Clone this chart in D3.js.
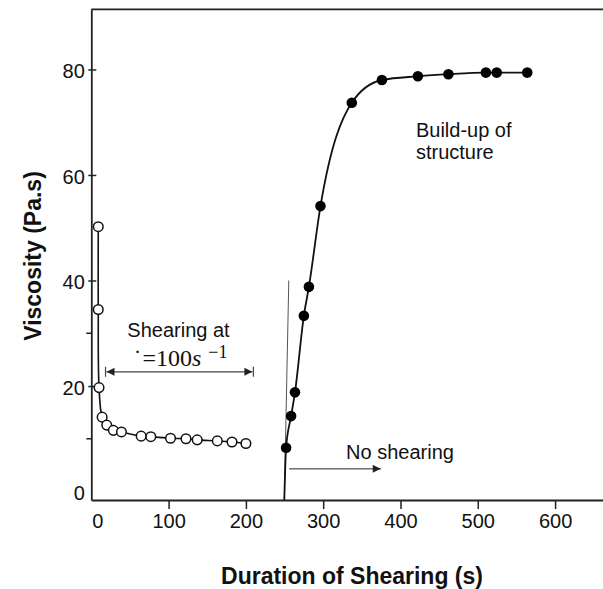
<!DOCTYPE html>
<html>
<head>
<meta charset="utf-8">
<script src="https://cdn.jsdelivr.net/npm/d3@7"></script>
<style>
  html, body { margin: 0; padding: 0; background: #fff; }
  svg { display: block; font-family: "Liberation Sans", Arial, sans-serif; }
</style>
</head>
<body>
<svg id="chart" width="603" height="589"></svg>
<script>
// Viscosity while shearing at a constant rate (open circles)
const shearTime = [9, 9, 10, 14, 20, 28.5, 39, 64.5, 77, 102.5, 122.5, 137, 163, 182, 200];
const shearVisc = [50.2, 34.5, 19.7, 14.1, 12.6, 11.6, 11.3, 10.5, 10.4, 10.1, 10.0, 9.8, 9.6, 9.4, 9.1];

// Viscosity recovery after shearing stops (filled circles)
const restTime = [252, 258.5, 263.5, 275, 281.5, 296.5, 337, 376, 422.5, 462, 510.5, 524.5, 564];
const restVisc = [8.3, 14.3, 18.8, 33.3, 38.8, 54.1, 73.7, 78.0, 78.7, 79.1, 79.4, 79.4, 79.4];

// Start of the recovery, where shearing stops
const restStart = [249.7, -1.6];
// Initial slope of the recovery
const slopeEnd = [255.5, 40];

const xTicks = [0, 100, 200, 300, 400, 500, 600];
const yTicks = [0, 20, 40, 60, 80];
const yMinorTicks = [10, 30];

const svg = d3.select("#chart");
const plotLeft = 91.3, plotRight = 603, plotTop = 9.3, plotBottom = 500;

const x = d3.scaleLinear().domain([0, 662]).range([plotLeft, plotRight]);
const y = d3.scaleLinear().domain([-1.6, 91.4]).range([plotBottom, plotTop]);

const axisColor = "#222";

// x axis
const gx = svg.append("g")
  .attr("transform", `translate(0,${plotBottom})`)
  .call(d3.axisBottom(x).tickValues(xTicks).tickSizeInner(9).tickSizeOuter(0).tickPadding(5));
gx.select(".domain").attr("stroke", axisColor).attr("stroke-width", 1.8);
gx.selectAll(".tick line").attr("stroke", axisColor).attr("stroke-width", 1.5)
  .attr("display", d => d === 0 ? "none" : null);
gx.selectAll(".tick text").attr("font-size", 20).attr("fill", "#111")
  .attr("font-family", "Liberation Sans, Arial, sans-serif")
  .attr("dx", d => d === 0 ? 6 : 0);

// y axis
const gy = svg.append("g")
  .attr("transform", `translate(${plotLeft},0)`)
  .call(d3.axisLeft(y).tickValues(yTicks).tickSizeInner(3).tickSizeOuter(0).tickPadding(3.5));
gy.select(".domain").attr("stroke", axisColor).attr("stroke-width", 1.8);
gy.selectAll(".tick line").attr("stroke", axisColor).attr("stroke-width", 1.5)
  .attr("x2", -3).attr("x1", 5)
  .attr("display", d => d === 0 ? "none" : null);
gy.selectAll(".tick text").attr("font-size", 20).attr("fill", "#111")
  .attr("font-family", "Liberation Sans, Arial, sans-serif")
  .attr("dy", "0.42em");
gy.selectAll(".minor").data(yMinorTicks).enter().append("line")
  .attr("class", "minor")
  .attr("x1", -5).attr("x2", 0)
  .attr("y1", d => y(d)).attr("y2", d => y(d))
  .attr("stroke", axisColor).attr("stroke-width", 1.5);

// top frame line
svg.append("line")
  .attr("x1", plotLeft).attr("x2", plotRight).attr("y1", plotTop).attr("y2", plotTop)
  .attr("stroke", axisColor).attr("stroke-width", 1.8);

// axis titles
svg.append("text")
  .attr("x", 352).attr("y", 584)
  .attr("text-anchor", "middle")
  .attr("font-size", 23).attr("font-weight", "bold").attr("fill", "#111")
  .text("Duration of Shearing (s)");
svg.append("text")
  .attr("transform", "translate(41,256) rotate(-90)")
  .attr("text-anchor", "middle")
  .attr("font-size", 23).attr("font-weight", "bold").attr("fill", "#111")
  .text("Viscosity (Pa.s)");

// initial slope line
svg.append("line")
  .attr("x1", x(restStart[0])).attr("y1", y(restStart[1]))
  .attr("x2", x(slopeEnd[0])).attr("y2", y(slopeEnd[1]))
  .attr("stroke", "#555").attr("stroke-width", 1);

// curves
const shearPts = shearTime.map((t, i) => [t, shearVisc[i]]);
const restPts = restTime.map((t, i) => [t, restVisc[i]]);

const lineCR = d3.line().x(d => x(d[0])).y(d => y(d[1])).curve(d3.curveCatmullRom.alpha(0.5));
const lineMono = d3.line().x(d => x(d[0])).y(d => y(d[1])).curve(d3.curveMonotoneX);

svg.append("path").attr("d", lineCR(shearPts))
  .attr("fill", "none").attr("stroke", "#111").attr("stroke-width", 1.6);
svg.append("path").attr("d", lineMono([restStart, ...restPts]))
  .attr("fill", "none").attr("stroke", "#111").attr("stroke-width", 1.8);

// markers
svg.selectAll(".open").data(shearPts).enter().append("circle")
  .attr("class", "open")
  .attr("cx", d => x(d[0])).attr("cy", d => y(d[1])).attr("r", 4.8)
  .attr("fill", "#fff").attr("stroke", "#111").attr("stroke-width", 1.5);
svg.selectAll(".filled").data(restPts).enter().append("circle")
  .attr("class", "filled")
  .attr("cx", d => x(d[0])).attr("cy", d => y(d[1])).attr("r", 5.3)
  .attr("fill", "#000");

// arrowheads
const defs = svg.append("defs");
function marker(id, color, orient) {
  defs.append("marker")
    .attr("id", id).attr("viewBox", "0 0 10 10")
    .attr("refX", 10).attr("refY", 5)
    .attr("markerWidth", 10).attr("markerHeight", 8)
    .attr("markerUnits", "userSpaceOnUse")
    .attr("orient", orient)
    .append("path").attr("d", "M0,0 L10,5 L0,10 Z").attr("fill", color);
}
marker("headEnd", "#222", "auto");
marker("headStart", "#222", "auto-start-reverse");

// shearing interval
const spanY = y(22.7);
const spanX0 = x(18.4), spanX1 = x(209.7);
svg.append("line")
  .attr("x1", spanX0 + 1).attr("x2", spanX1 - 1).attr("y1", spanY).attr("y2", spanY)
  .attr("stroke", "#444").attr("stroke-width", 1.2)
  .attr("marker-start", "url(#headStart)").attr("marker-end", "url(#headEnd)");
[spanX0, spanX1].forEach(px => {
  svg.append("line").attr("x1", px).attr("x2", px)
    .attr("y1", spanY - 5).attr("y2", spanY + 5)
    .attr("stroke", "#444").attr("stroke-width", 1.2);
});

svg.append("text")
  .attr("x", x(46.6)).attr("y", y(29.3))
  .attr("font-size", 20).attr("fill", "#111")
  .text("Shearing at");

const rate = svg.append("text")
  .attr("x", x(54.5)).attr("y", y(23.8))
  .attr("font-family", "Liberation Serif, 'Times New Roman', serif")
  .attr("font-size", 24).attr("fill", "#111");
rate.append("tspan").text("˙");
rate.append("tspan").attr("dx", 1).text("=100");
rate.append("tspan").attr("font-style", "italic").text("s");
rate.append("tspan").attr("dx", 7).attr("dy", -8).attr("font-size", 18).text("−1");

// rest interval
const restY = y(4.3);
svg.append("line")
  .attr("x1", x(256)).attr("x2", x(374.5)).attr("y1", restY).attr("y2", restY)
  .attr("stroke", "#222").attr("stroke-width", 1)
  .attr("marker-end", "url(#headEnd)");
svg.append("text")
  .attr("x", x(329.6)).attr("y", y(6.25))
  .attr("font-size", 20).attr("fill", "#111")
  .text("No shearing");

// recovery label
const build = svg.append("text")
  .attr("x", x(420)).attr("y", y(67.2))
  .attr("font-size", 20).attr("fill", "#111");
build.append("tspan").text("Build-up of");
build.append("tspan").attr("x", x(420)).attr("dy", 22).text("structure");
</script>
</body>
</html>
